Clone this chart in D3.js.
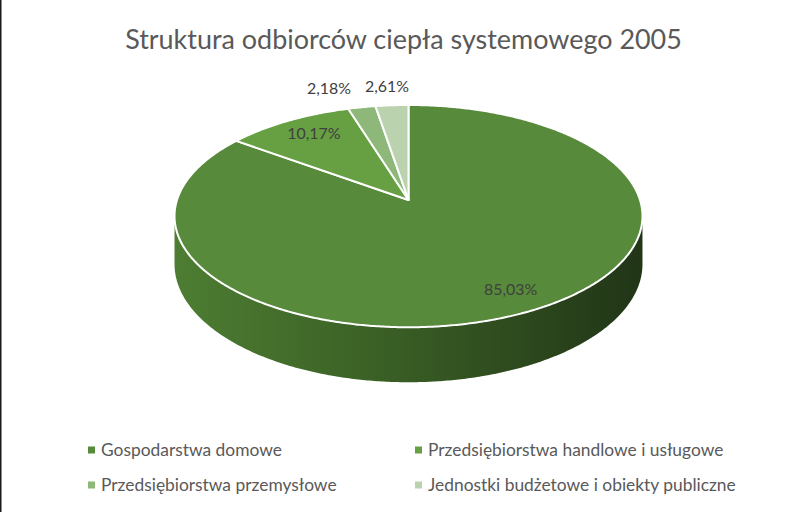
<!DOCTYPE html>
<html>
<head>
<meta charset="utf-8">
<script src="https://cdn.jsdelivr.net/npm/d3@7"></script>
<style>
  html, body { margin: 0; padding: 0; background: #fff; }
  svg { display: block; font-family: Lato, "Open Sans", sans-serif; }
</style>
</head>
<body>
<div id="chart"></div>
<script>
// dane
const title = "Struktura odbiorców ciepła systemowego 2005";
const categories = [
  "Gospodarstwa domowe",
  "Przedsiębiorstwa handlowe i usługowe",
  "Przedsiębiorstwa przemysłowe",
  "Jednostki budżetowe i obiekty publiczne"
];
const values = [85.03, 10.17, 2.18, 2.61];
const valueLabels = ["85,03%", "10,17%", "2,18%", "2,61%"];

const palette = ["#578a3a", "#66a042", "#8db879", "#bad3ae"];

const width = 812;
const height = 512;

// parametry rzutu 3D (perspektywa)
const cx = 408.5, cy = 200;
const kx = 231.5, ky = 108.8;
const persp = 0.145;
const depth = 47;

function proj(a, r, z = 0) {
  const X = r * Math.sin(a);
  const Y = -r * Math.cos(a);
  const w = 1 / (1 - persp * Y);
  return [cx + X * kx * w, cy + Y * ky * w + z * w];
}

function arcPoints(a0, a1, r, z) {
  const n = Math.max(2, Math.ceil(Math.abs(a1 - a0) / (Math.PI / 360)));
  return d3.range(n + 1).map(i => proj(a0 + (a1 - a0) * i / n, r, z));
}

const color = d3.scaleOrdinal().domain(categories).range(palette);

const svg = d3.select("#chart")
  .append("svg")
  .attr("width", width)
  .attr("height", height);

svg.append("rect")
  .attr("width", width).attr("height", height)
  .attr("fill", "#fff");

// lewa krawędź ramki
svg.append("rect")
  .attr("x", 0).attr("y", 0)
  .attr("width", 1.5).attr("height", height)
  .attr("fill", "#1a1a1a");

// tytuł
const titleText = svg.append("text")
  .attr("x", 403.5)
  .attr("y", 49)
  .attr("text-anchor", "middle")
  .attr("font-size", 26)
  .attr("fill", "#595959")
  .text(title);
fitWidth(titleText, 557);

const pie = d3.pie().sort(null).value(d => d)
  .startAngle(0).endAngle(2 * Math.PI);
const arcs = pie(values);

const line = d3.line();

// gradient ściany bocznej
const aSil = Math.acos(-persp);
const xLeft = proj(2 * Math.PI - aSil, 1)[0];
const xRight = proj(aSil, 1)[0];
const grad = svg.append("defs").append("linearGradient")
  .attr("id", "side")
  .attr("gradientUnits", "userSpaceOnUse")
  .attr("x1", xLeft).attr("x2", xRight)
  .attr("y1", 0).attr("y2", 0);
grad.append("stop").attr("offset", 0).attr("stop-color", "#4d7d32");
grad.append("stop").attr("offset", 0.45).attr("stop-color", "#3a5f25");
grad.append("stop").attr("offset", 1).attr("stop-color", "#213517");

const g = svg.append("g");

// ściany boczne (tylko widoczny, przedni fragment)
arcs.forEach((d, i) => {
  const a0 = Math.max(d.startAngle, aSil);
  const a1 = Math.min(d.endAngle, 2 * Math.PI - aSil);
  if (a1 <= a0) return;
  const pts = arcPoints(a0, a1, 1, 0).concat(arcPoints(a1, a0, 1, depth));
  g.append("path")
    .attr("d", line(pts) + "Z")
    .attr("fill", i === 0 ? "url(#side)" : d3.color(color(categories[i])).darker(1.2));
});

// górne powierzchnie wycinków
g.selectAll("path.top")
  .data(arcs)
  .join("path")
  .attr("class", "top")
  .attr("d", d => line([proj(0, 0)].concat(arcPoints(d.startAngle, d.endAngle, 1, 0))) + "Z")
  .attr("fill", (d, i) => color(categories[i]))
  .attr("stroke", "#fff")
  .attr("stroke-width", 2)
  .attr("stroke-linejoin", "round");

// etykiety danych
const labelG = svg.append("g");
const labels = arcs.map((d, i) => {
  const mid = (d.startAngle + d.endAngle) / 2;
  const inside = values[i] >= 5;
  const [x, y] = inside ? proj(mid, 0.82) : proj(mid, 1);
  const t = labelG.append("text")
    .attr("x", x + (inside ? 6 : 0))
    .attr("y", inside ? y : y - 19)
    .attr("dy", "0.35em")
    .attr("text-anchor", "middle")
    .attr("font-size", 15)
    .attr("fill", "#404040")
    .text(valueLabels[i]);
  return { t, inside, x };
});
const small = labels.find(l => !l.inside).t;
const baseFs = parseFloat(small.attr("font-size"));
const k = 44 / small.node().getComputedTextLength();
labels.forEach(l => l.t.attr("font-size", baseFs * k));

// rozsuwanie etykiet zewnętrznych
const outside = labels.filter(l => !l.inside).sort((a, b) => b.x - a.x);
let prevLeft = null;
outside.forEach((l, i) => {
  const w = l.t.node().getComputedTextLength();
  let x = l.x - (i === 0 ? 5 : 0);
  if (prevLeft !== null && x + w / 2 > prevLeft - 14) x = prevLeft - 14 - w / 2;
  l.t.attr("x", x);
  prevLeft = x - w / 2;
});

// legenda
const legX = [101, 428];
const legY = [450, 485];
const legend = svg.append("g")
  .selectAll("g")
  .data(categories)
  .join("g")
  .attr("transform", (d, i) => `translate(${legX[i % 2]},${legY[Math.floor(i / 2)]})`);

legend.append("rect")
  .attr("x", -13).attr("y", -3.5)
  .attr("width", 7).attr("height", 7)
  .attr("fill", d => color(d));

const legText = legend.append("text")
  .attr("dy", "0.35em")
  .attr("font-size", 15)
  .attr("fill", "#595959")
  .text(d => d);

const first = legText.filter((d, i) => i === 0);
const legK = 181 / first.node().getComputedTextLength();
legText.attr("font-size", 15 * legK);

function fitWidth(sel, target) {
  const fs = parseFloat(sel.attr("font-size"));
  const w = sel.node().getComputedTextLength();
  sel.attr("font-size", fs * target / w);
}
</script>
</body>
</html>
